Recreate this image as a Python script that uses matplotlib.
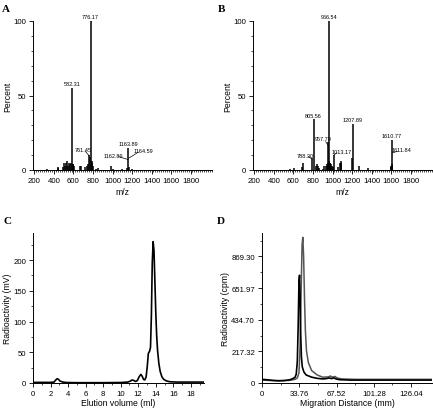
import matplotlib
matplotlib.use("Agg")
import matplotlib.pyplot as plt
from matplotlib.ticker import MultipleLocator, FixedLocator

plt.rcParams['font.family'] = ['Liberation Sans', 'DejaVu Sans']

# ---------------- data ----------------
# Panel A: MS spectrum
a_mz = [330, 440, 446, 490, 500, 510, 520, 530, 545, 555, 565, 575, 582.31, 590, 600, 610,
        670, 680, 720, 735, 745, 761.45, 768, 776.17, 785, 792, 800, 830, 855, 980, 1000,
        1100, 1150, 1163.89, 1170, 1200]
a_int = [1, 2, 1.5, 2, 5, 3, 5, 6, 3, 5, 4, 5, 55, 4, 4, 3,
         3, 3, 2, 3, 4, 10, 9, 100, 5, 6, 3, 1, 1.5, 3, 1,
         1, 1.5, 15, 2, 1]
a_labels = ["582.31", "776.17", "1163.89"]
a_label_mz = [582.31, 776.17, 1163.89]
a_label_int = [55, 100, 15]
a_lead_labels = ["761.45", "1162.89", "1164.59"]
a_lead_text_xy = [(700, 14), (1010, 10), (1320, 13)]
a_lead_line = [((722, 12.5), (761, 9.5)), ((1062, 9), (1160, 7)), ((1168, 8), (1265, 12))]

# Panel B: MS spectrum
b_mz = [560, 610, 690, 700, 788.30, 805.56, 830, 840, 850, 860, 900, 915, 930, 940, 950,
        957.70, 962, 966.54, 970, 978, 985, 995, 1005, 1013.17, 1060, 1075, 1085, 1090,
        1195, 1207.89, 1270, 1365, 1595, 1600, 1605, 1610.77, 1615]
b_int = [1, 1.5, 2, 5, 8, 34, 3, 4, 3, 1.5, 1, 3, 3, 4, 5,
         19, 6, 100, 5, 5, 4, 3, 2, 10, 2, 5, 6, 5,
         8, 31, 3, 1.5, 2, 3, 4, 20, 3]
b_labels = ["966.54", "805.56", "1207.89", "1610.77"]
b_label_mz = [966.54, 805.56, 1207.89, 1610.77]
b_label_int = [100, 34, 31, 20]
b_lead_labels = ["788.30", "957.70", "1013.17", "1611.84"]
b_lead_text_xy = [(720, 10), (905, 21), (1095, 12.5), (1705, 13.5)]
b_lead_line = [((750, 9), (790, 7.5)), ((930, 19), (956, 16.5)), ((1013, 10), (1045, 11.5)),
               ((1613, 11.5), (1665, 12.5))]

# Panel C: elution profile
c_vol = [0, 1, 2, 2.4, 2.6, 2.75, 2.9, 3.1, 3.4, 3.8, 5, 8, 10, 10.8, 11.1, 11.3, 11.5,
         11.7, 11.9, 12.1, 12.3, 12.45, 12.6, 12.75, 12.9, 13.05, 13.15, 13.3, 13.4, 13.5,
         13.6, 13.7, 13.8, 13.9, 14.0, 14.1, 14.2, 14.35, 14.5, 14.7, 14.9, 15.2, 15.6,
         16.5, 19.5]
c_rad = [1, 1, 1, 1.5, 5, 7, 6, 3, 1.5, 0.8, 0.5, 0.5, 0.8, 1.5, 3, 5, 4,
         2.5, 4, 10, 14, 11, 6, 5, 10, 30, 48, 52, 58, 110,
         195, 230, 215, 165, 115, 78, 54, 32, 19, 10, 6, 3.5, 2,
         1.5, 1.5]

# Panel D: radio-TLC scans
d_dist1 = [0, 5, 10, 15, 20, 25, 28, 30, 31, 32, 32.8, 33.5, 34, 34.5, 35, 35.7, 36.5,
           38, 40, 45, 50, 55, 58, 61, 63, 65, 67, 70, 80, 100, 154]
d_cpm1 = [25, 22, 18, 16, 17, 22, 30, 40, 60, 150, 400, 700, 740, 600, 350, 180, 110,
          75, 55, 40, 32, 28, 30, 35, 30, 35, 28, 23, 20, 20, 20]
d_dist2 = [0, 15, 25, 30, 32, 33.5, 34.5, 35.5, 36.3, 37.0, 37.7, 38.5, 39.3, 40.3, 42,
           45, 50, 55, 60, 62, 64, 66, 68, 72, 85, 154]
d_cpm2 = [20, 14, 18, 25, 35, 70, 250, 650, 950, 1000, 870, 580, 360, 220, 140,
          85, 55, 40, 42, 48, 40, 45, 35, 28, 25, 25]
d_ticks = [0, 33.76, 67.52, 101.28, 135.04]
d_ticklabels = ["0", "33.76", "67.52", "101.28", "126.04"]
d_yticks = [0, 217.32, 434.70, 651.97, 869.30]
d_yticklabels = ["0", "217.32", "434.70", "651.97", "869.30"]

# ---------------- figure ----------------
W, H = 433, 410
fig = plt.figure(figsize=(W / 100, H / 100), dpi=100)

def ax_px(l, r, t, b):
    return fig.add_axes([l / W, 1 - b / H, (r - l) / W, (b - t) / H])

TS = 5.6
LS = 6.2

def style(ax):
    for s in ['top', 'right']:
        ax.spines[s].set_visible(False)
    for s in ['left', 'bottom']:
        ax.spines[s].set_linewidth(0.7)
    ax.tick_params(which='major', length=3, width=0.6, labelsize=TS, pad=2)
    ax.tick_params(which='minor', length=1.5, width=0.5)

def spectrum(ax, mz, inten, labels, lmz, lint, llabels, ltxt, lline):
    ax.vlines(mz, 0, inten, colors='black', linewidth=1.1)
    ax.set_xlim(185, 2020)
    ax.set_ylim(0, 100)
    ax.xaxis.set_major_locator(FixedLocator([200, 400, 600, 800, 1000, 1200, 1400, 1600, 1800]))
    ax.xaxis.set_minor_locator(MultipleLocator(20))
    ax.yaxis.set_major_locator(FixedLocator([0, 50, 100]))
    ax.yaxis.set_minor_locator(MultipleLocator(10))
    style(ax)
    ax.set_xlabel("m/z", fontsize=LS, labelpad=2)
    ax.set_ylabel("Percent", fontsize=LS, labelpad=1)
    for t, x, y in zip(labels, lmz, lint):
        ax.text(x, y + 1.2, t, fontsize=4.0, ha='center', va='bottom', clip_on=False)
    for t, (tx, ty), ((x0, y0), (x1, y1)) in zip(llabels, ltxt, lline):
        ax.text(tx, ty, t, fontsize=4.0, ha='center', va='center')
        ax.plot([x0, x1], [y0, y1], color='black', linewidth=0.5)

axA = ax_px(33, 212, 22, 171)
spectrum(axA, a_mz, a_int, a_labels, a_label_mz, a_label_int,
         a_lead_labels, a_lead_text_xy, a_lead_line)
axB = ax_px(253, 432, 22, 171)
spectrum(axB, b_mz, b_int, b_labels, b_label_mz, b_label_int,
         b_lead_labels, b_lead_text_xy, b_lead_line)

# Panel C
axC = ax_px(33, 204, 234, 384)
axC.plot(c_vol, c_rad, color='black', linewidth=1.2)
axC.set_xlim(0, 19.5)
axC.set_ylim(0, 244)
axC.xaxis.set_major_locator(MultipleLocator(2))
axC.xaxis.set_minor_locator(MultipleLocator(1))
axC.yaxis.set_major_locator(MultipleLocator(50))
axC.yaxis.set_minor_locator(MultipleLocator(25))
style(axC)
axC.set_xlabel("Elution volume (ml)", fontsize=LS, labelpad=1)
axC.set_ylabel("Radioactivity (mV)", fontsize=LS, labelpad=1)

# Panel D
axD = ax_px(262, 432, 234, 384)
axD.plot(d_dist2, d_cpm2, color='#555555', linewidth=1.1)
axD.plot(d_dist1, d_cpm1, color='black', linewidth=1.2)
axD.set_xlim(0, 154)
axD.set_ylim(0, 1030)
axD.set_xticks(d_ticks)
axD.set_xticklabels(d_ticklabels)
axD.set_xticks([16.88, 50.64, 84.40, 118.16], minor=True)
axD.set_yticks(d_yticks)
axD.set_yticklabels(d_yticklabels)
axD.set_yticks([108.66, 326.01, 543.33, 760.63, 977.96], minor=True)
style(axD)
axD.set_xlabel("Migration Distance (mm)", fontsize=LS, labelpad=1)
axD.set_ylabel("Radioactivity (cpm)", fontsize=LS, labelpad=1)

# Panel letters
for lab, x, y in [("A", 2, 9), ("B", 218, 9), ("C", 3, 222), ("D", 217, 222)]:
    fig.text(x / W, 1 - y / H, lab, fontsize=8, fontweight='bold',
             family=['Liberation Serif', 'DejaVu Serif'], ha='left', va='center')

fig.savefig("out.png", dpi=100)
